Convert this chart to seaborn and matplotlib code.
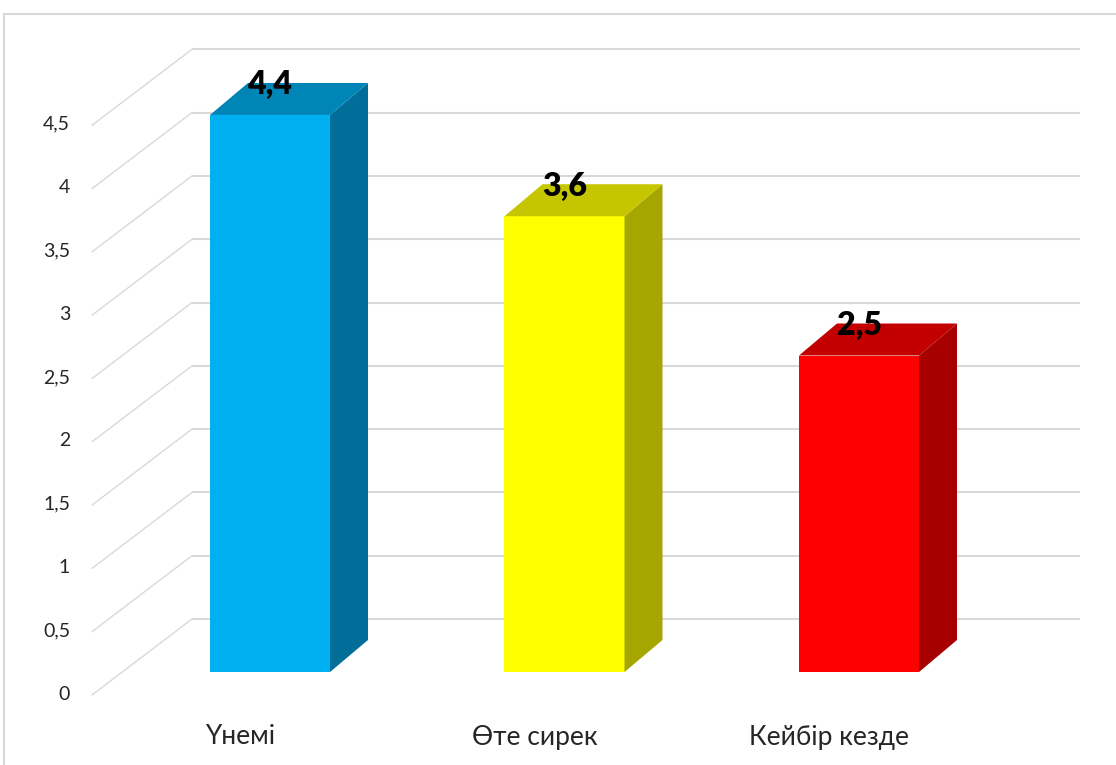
"""Recreate a 3D-style Excel column chart (Kazakh labels) with seaborn + matplotlib patches."""
import matplotlib
matplotlib.use('Agg')
import matplotlib.pyplot as plt
from matplotlib.patches import Polygon, Rectangle
import pandas as pd
import seaborn as sns

# --- data ---
categories = ['Үнемі', 'Өте сирек', 'Кейбір кезде']
values = [4.4, 3.6, 2.5]
value_labels = ['4,4', '3,6', '2,5']
tick_values = [0, 0.5, 1, 1.5, 2, 2.5, 3, 3.5, 4, 4.5]
tick_labels = ['0', '0,5', '1', '1,5', '2', '2,5', '3', '3,5', '4', '4,5']

front_colors = ['#00B0F0', '#FFFF00', '#FF0000']
side_colors = ['#006E99', '#A6A600', '#A60000']
top_colors = ['#0086B6', '#C6C600', '#C20000']

W, H = 1116, 765
GRID = '#D9D9D9'
TEXT = '#262626'

sns.set_theme(style='white')
plt.rcParams['font.family'] = ['Lato', 'DejaVu Sans']

fig = plt.figure(figsize=(W / 100, H / 100), dpi=100)
ax = fig.add_axes([0, 0, 1, 1])

df = pd.DataFrame({'cat': categories, 'val': values})
sns.barplot(data=df, x='cat', y='val', hue='cat', palette=front_colors,
            saturation=1, width=0.4075, legend=False, linewidth=0, ax=ax, zorder=3)

# front plane of the bars: x=0 at 270px, 294.5px per category; y=0 at 672px, 126.6px per unit
ax.set_xlim(-270 / 294.5, (W - 270) / 294.5)
ax.set_ylim((672 - H) / 126.6, 672 / 126.6)
ax.axis('off')

# pixel sizes of one data unit
x0, y0 = ax.transData.transform((0, 0))
x1, y1 = ax.transData.transform((1, 1))
ux, uy = x1 - x0, y1 - y0


def px_x(px):
    return ax.transData.inverted().transform((px, 0))[0]


def px_y(py):
    return ax.transData.inverted().transform((0, H - py))[1]


# depth offsets (pixels): bar depth, back wall, front edge
bar_dx, bar_dy = 38, 32
back_dx, back_dy = 66, 53
front_dx, front_dy = -34, -23
anchor = px_x(126)
wall_right = px_x(1080 - back_dx)

# back wall gridlines and side-wall diagonals
for v, lab in zip(tick_values, tick_labels):
    yb = v + back_dy / uy
    ax.plot([anchor + back_dx / ux, wall_right + back_dx / ux], [yb, yb],
            color=GRID, lw=1.5, zorder=1, solid_capstyle='butt')
    yf = v + front_dy / uy
    ax.plot([anchor + front_dx / ux, anchor + back_dx / ux], [yf, yb],
            color=GRID, lw=1.0, zorder=1)
    ax.text(anchor + (front_dx - 22) / ux, yf + 1 / uy, lab, ha='right', va='center',
            fontsize=14, color=TEXT, zorder=5)

# 3D side and top faces, taken from the seaborn bars
ddx, ddy = bar_dx / ux, bar_dy / uy
for i, bar in enumerate(ax.patches[:len(values)]):
    left = bar.get_x()
    right = left + bar.get_width()
    top = bar.get_height()
    side = Polygon([(right, 0), (right + ddx, ddy), (right + ddx, top + ddy), (right, top)],
                   closed=True, facecolor=side_colors[i], edgecolor='none', zorder=3)
    lid = Polygon([(left, top), (right, top), (right + ddx, top + ddy), (left + ddx, top + ddy)],
                  closed=True, facecolor=top_colors[i], edgecolor='none', zorder=3)
    ax.add_patch(side)
    ax.add_patch(lid)
    cx = left + bar.get_width() / 2
    ax.text(cx, top + 30 / uy, value_labels[i], ha='center', va='center',
            fontsize=23, fontweight='heavy', color='black', zorder=5)
    ax.text(cx - 30 / ux, px_y(737), categories[i], ha='center', va='center',
            fontsize=19, color=TEXT, zorder=5)

# outer chart frame (only the top and left edges are in view)
fig.add_artist(Rectangle((4 / W, -0.05), 1.1, 1 - 14 / H + 0.05, transform=fig.transFigure,
                         fill=False, edgecolor=GRID, lw=1.5))

fig.savefig('out.png', dpi=100)
